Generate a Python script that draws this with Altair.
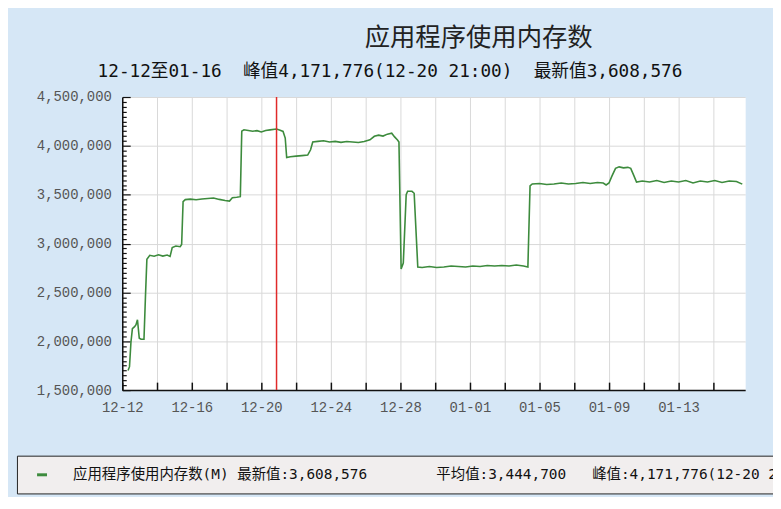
import altair as alt
import pandas as pd

# ---------------- data ----------------
times = [
    "2023-12-12T08:00", "2023-12-12T10:00", "2023-12-12T12:00", "2023-12-12T14:00",
    "2023-12-12T17:00", "2023-12-12T19:00", "2023-12-12T21:00", "2023-12-12T23:30",
    "2023-12-13T02:00", "2023-12-13T06:00", "2023-12-13T08:00", "2023-12-13T10:00",
    "2023-12-13T14:00", "2023-12-13T20:00", "2023-12-14T02:00", "2023-12-14T08:00",
    "2023-12-14T14:00", "2023-12-14T18:00", "2023-12-14T21:00", "2023-12-15T02:00",
    "2023-12-15T08:00", "2023-12-15T10:00", "2023-12-15T12:00", "2023-12-15T15:00",
    "2023-12-15T22:00", "2023-12-16T06:00", "2023-12-16T14:00", "2023-12-16T22:00",
    "2023-12-17T06:00", "2023-12-17T14:00", "2023-12-17T22:00", "2023-12-18T04:00",
    "2023-12-18T08:00", "2023-12-18T14:00", "2023-12-18T19:00", "2023-12-18T21:00",
    "2023-12-19T00:00", "2023-12-19T06:00", "2023-12-19T12:00", "2023-12-19T18:00",
    "2023-12-20T00:00", "2023-12-20T06:00", "2023-12-20T12:00", "2023-12-20T21:00",
    "2023-12-21T02:00", "2023-12-21T06:00", "2023-12-21T09:00", "2023-12-21T11:00",
    "2023-12-21T16:00", "2023-12-22T00:00", "2023-12-22T08:00", "2023-12-22T16:00",
    "2023-12-22T20:00", "2023-12-22T23:00", "2023-12-23T06:00", "2023-12-23T14:00",
    "2023-12-23T22:00", "2023-12-24T06:00", "2023-12-24T14:00", "2023-12-24T22:00",
    "2023-12-25T06:00", "2023-12-25T14:00", "2023-12-25T22:00", "2023-12-26T06:00",
    "2023-12-26T12:00", "2023-12-26T18:00", "2023-12-27T00:00", "2023-12-27T06:00",
    "2023-12-27T12:00", "2023-12-27T16:00", "2023-12-27T20:00", "2023-12-27T22:00",
    "2023-12-28T01:00", "2023-12-28T04:00", "2023-12-28T08:00", "2023-12-28T10:00",
    "2023-12-28T16:00", "2023-12-28T19:00", "2023-12-29T00:00", "2023-12-29T06:00",
    "2023-12-29T16:00", "2023-12-30T02:00", "2023-12-30T12:00", "2023-12-30T22:00",
    "2023-12-31T08:00", "2023-12-31T18:00", "2024-01-01T04:00", "2024-01-01T14:00",
    "2024-01-02T00:00", "2024-01-02T10:00", "2024-01-02T20:00", "2024-01-03T06:00",
    "2024-01-03T16:00", "2024-01-04T02:00", "2024-01-04T08:00", "2024-01-04T11:00",
    "2024-01-04T14:00", "2024-01-05T00:00", "2024-01-05T10:00", "2024-01-05T20:00",
    "2024-01-06T06:00", "2024-01-06T16:00", "2024-01-07T02:00", "2024-01-07T12:00",
    "2024-01-07T22:00", "2024-01-08T08:00", "2024-01-08T16:00", "2024-01-08T20:00",
    "2024-01-09T00:00", "2024-01-09T04:00", "2024-01-09T09:00", "2024-01-09T14:00",
    "2024-01-09T20:00", "2024-01-10T02:00", "2024-01-10T06:00", "2024-01-10T10:00",
    "2024-01-10T14:00", "2024-01-10T22:00", "2024-01-11T08:00", "2024-01-11T18:00",
    "2024-01-12T04:00", "2024-01-12T14:00", "2024-01-13T00:00", "2024-01-13T10:00",
    "2024-01-13T20:00", "2024-01-14T06:00", "2024-01-14T16:00", "2024-01-15T02:00",
    "2024-01-15T12:00", "2024-01-15T22:00", "2024-01-16T08:00", "2024-01-16T16:00",
]
values = [
    1700000, 1740000, 1990000, 2130000,
    2150000, 2170000, 2220000, 2030000,
    2020000, 2020000, 2450000, 2840000,
    2880000, 2870000, 2885000, 2872000,
    2882000, 2868000, 2960000, 2975000,
    2968000, 2990000, 3430000, 3450000,
    3455000, 3448000, 3456000, 3462000,
    3466000, 3452000, 3440000, 3435000,
    3468000, 3474000, 3480000, 4150000,
    4165000, 4158000, 4150000, 4156000,
    4143000, 4158000, 4164000, 4171776,
    4160000, 4148000, 4080000, 3880000,
    3888000, 3895000, 3900000, 3906000,
    3960000, 4040000, 4046000, 4052000,
    4040000, 4046000, 4036000, 4045000,
    4040000, 4034000, 4045000, 4062000,
    4098000, 4110000, 4100000, 4120000,
    4130000, 4092000, 4060000, 4040000,
    2740000, 2800000, 3500000, 3535000,
    3535000, 3515000, 2760000, 2755000,
    2765000, 2755000, 2760000, 2770000,
    2765000, 2760000, 2770000, 2765000,
    2775000, 2770000, 2775000, 2770000,
    2780000, 2770000, 2760000, 3590000,
    3610000, 3615000, 3605000, 3610000,
    3620000, 3610000, 3615000, 3625000,
    3615000, 3625000, 3620000, 3600000,
    3620000, 3690000, 3770000, 3785000,
    3775000, 3780000, 3770000, 3700000,
    3630000, 3640000, 3630000, 3645000,
    3625000, 3640000, 3630000, 3645000,
    3620000, 3640000, 3630000, 3645000,
    3625000, 3640000, 3635000, 3608576,
]

series_name = "应用程序使用内存数(M)"
latest_value = 3608576
average_value = 3444700
peak_value = 4171776
peak_time = "2023-12-20T21:00"
peak_label = "12-20 21:00"
range_start_label = "12-12"
range_end_label = "01-16"
title_text = "应用程序使用内存数"

y_major = [1500000, 2000000, 2500000, 3000000, 3500000, 4000000, 4500000]
y_minor = list(range(1500000, 4500001, 50000))
x_label_days = [(2023, 12, 12), (2023, 12, 16), (2023, 12, 20), (2023, 12, 24),
                (2023, 12, 28), (2024, 1, 1), (2024, 1, 5), (2024, 1, 9), (2024, 1, 13)]
x_grid_days = [(2023, 12, 12), (2023, 12, 14), (2023, 12, 16), (2023, 12, 18),
               (2023, 12, 20), (2023, 12, 22), (2023, 12, 24), (2023, 12, 26),
               (2023, 12, 28), (2023, 12, 30), (2024, 1, 1), (2024, 1, 3),
               (2024, 1, 5), (2024, 1, 7), (2024, 1, 9), (2024, 1, 11),
               (2024, 1, 13), (2024, 1, 15)]
x_domain = [(2023, 12, 12, 0), (2024, 1, 16, 20)]

# ---------------- derived tables ----------------
def fmt(n):
    return f"{n:,}"

NB = "\u00a0"
legend_label = (f"{series_name} 最新值:{fmt(latest_value)}{NB * 8}平均值:{fmt(average_value)}"
                f"{NB * 3}峰值:{fmt(peak_value)}({peak_label})")

df = pd.DataFrame({"t": times, "v": values, "s": [legend_label] * len(times)})
peak_df = pd.DataFrame({"t": [peak_time], "lo": [y_major[0]], "hi": [y_major[-1]]})

def dt(y, m, d, h=0):
    return alt.DateTime(year=y, month=m, date=d, hours=h)

x_scale = alt.Scale(domain=[dt(*x_domain[0]), dt(*x_domain[1])])
y_scale = alt.Scale(domain=[y_major[0], y_major[-1]], nice=False, zero=False)

PLOT_W, PLOT_H = 627, 295
MONO_SERIF = "Liberation Mono"
MONO_CJK = "DejaVu Sans Mono, Noto Sans CJK SC"

line = alt.Chart(df).mark_line(strokeWidth=1.6).encode(
    x=alt.X("t:T", scale=x_scale, title=None,
            axis=alt.Axis(orient="bottom", values=[dt(*d) for d in x_label_days],
                          format="%m-%d", grid=False, ticks=False,
                          domainColor="#111", domainWidth=1.5,
                          labelFont=MONO_SERIF, labelFontSize=14, labelColor="#555",
                          labelPadding=11, labelFlush=False)),
    y=alt.Y("v:Q", scale=y_scale, title=None,
            axis=alt.Axis(orient="left", values=y_major,
                          labelExpr="format(datum.value, ',')", grid=True,
                          gridColor="#d9d9d9", gridWidth=1, ticks=False,
                          domainColor="#111", domainWidth=1.5,
                          labelFont=MONO_SERIF, labelFontSize=14, labelColor="#555",
                          labelPadding=11)),
    color=alt.Color("s:N", scale=alt.Scale(range=["#3d8b3d"]),
                    legend=alt.Legend(title=None, orient="none", legendX=-106, legendY=361,
                                      direction="horizontal", symbolType="stroke",
                                      symbolSize=100, symbolStrokeWidth=3,
                                      symbolOffset=6, labelOffset=24,
                                      labelFont=MONO_CJK, labelFontSize=14.5,
                                      labelColor="#111", labelLimit=3000,
                                      padding=12, fillColor="#f1eeee",
                                      strokeColor="#222")),
)

rule = alt.Chart(peak_df).mark_rule(color="#e02a2a", strokeWidth=1.5).encode(
    x=alt.X("t:T", scale=x_scale, title=None,
            axis=alt.Axis(orient="top", offset=-PLOT_H, values=[dt(*d) for d in x_grid_days],
                          grid=True, gridColor="#d9d9d9", gridWidth=1,
                          ticks=True, tickSize=8, tickColor="#111", tickWidth=1.5,
                          labels=False, domain=False)),
    y=alt.Y("lo:Q", scale=y_scale, title=None,
            axis=alt.Axis(orient="right", offset=-PLOT_W, values=y_minor,
                          grid=False, ticks=True,
                          tickSize={"condition": {"test": "datum.value % 500000 === 0", "value": 8},
                                    "value": 4},
                          tickColor="#111", tickWidth=1.2,
                          labels=False, domain=False)),
    y2="hi:Q",
)

subtitle = (f"{range_start_label}至{range_end_label}{NB * 2}峰值{fmt(peak_value)}({peak_label})"
            f"{NB * 2}最新值{fmt(latest_value)}")

# the part of the title left of the visible text is blanked out in the reference
title_full = "\u200b" + "\u3000" * 7 + title_text

chart = alt.layer(line, rule).resolve_axis(x="independent", y="independent").properties(
    width=PLOT_W, height=PLOT_H,
    autosize=alt.AutoSizeParams(type="none"),
    padding={"left": 115, "top": 88, "right": 28, "bottom": 106},
    background="#d6e7f6",
    title=alt.TitleParams(
        text=title_full,
        subtitle=subtitle,
        anchor="middle", frame="group", dx=-44, offset=9,
        font="Noto Sans CJK SC", fontSize=25.5, fontWeight="normal", color="#222",
        subtitleFont=MONO_CJK, subtitleFontSize=17.8, subtitleColor="#111",
        subtitlePadding=12,
    ),
).configure_view(fill="white", stroke="transparent")

chart.save("out.html", embed_options={"renderer": "svg", "actions": False})
